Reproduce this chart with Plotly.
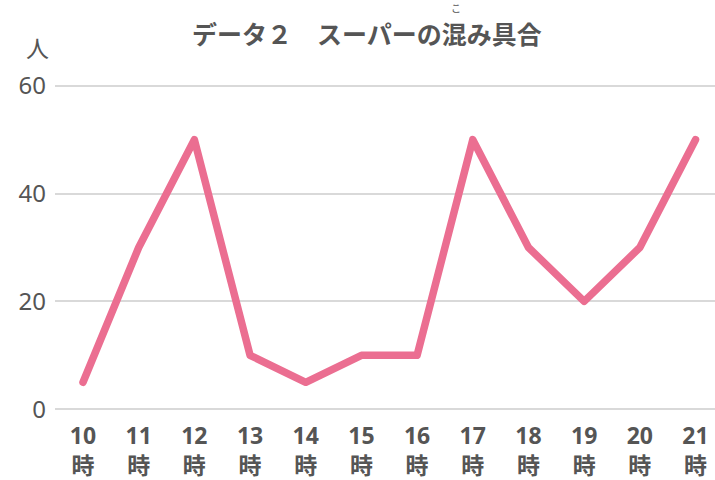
import plotly.graph_objects as go

hours = ["10", "11", "12", "13", "14", "15", "16", "17", "18", "19", "20", "21"]
people = [5, 30, 50, 10, 5, 10, 10, 50, 30, 20, 30, 50]
y_ticks = [0, 20, 40, 60]
title_text = "データ２　スーパーの混み具合"
ruby_text = "こ"
y_unit = "人"
x_suffix = "時"

xs = list(range(len(hours)))
tick_text = [f"{h}<br>{x_suffix}" for h in hours]

fig = go.Figure()
fig.add_trace(go.Scatter(
    x=xs, y=people, mode="lines",
    line=dict(color="#EB6E91", width=7.5),
    hoverinfo="skip", cliponaxis=False,
))

W, H = 715, 480
# pixel rows of y=60 and y=0 in the reference
Y60, Y0 = 86, 409
pad = 2  # value units of padding so edge gridlines draw
px_per = (Y0 - Y60) / 60
T = int(round(Y60 - pad * px_per))
B = int(round(H - (Y0 + pad * px_per)))
L, R = 55, 0
ph = H - T - B

def ypix(py):
    return 1 - (py - T) / ph

fig.update_layout(
    width=W, height=H,
    margin=dict(l=L, r=R, t=T, b=B, autoexpand=False),
    paper_bgcolor="white", plot_bgcolor="white",
    showlegend=False,
    font=dict(family="Noto Sans CJK JP", color="#555555"),
    xaxis=dict(
        range=[-0.503, 11.35],
        tickmode="array", tickvals=xs, ticktext=tick_text,
        showgrid=False, zeroline=False, showline=False,
        ticks="", automargin=False,
        tickfont=dict(size=23, family="Noto Sans, Noto Sans CJK JP", weight="bold", color="#555555"),
        fixedrange=True,
    ),
    yaxis=dict(
        range=[-pad, 60 + pad],
        tickmode="array", tickvals=y_ticks,
        showgrid=True, gridcolor="#D9D9D9", gridwidth=2,
        zeroline=False, showline=False, ticks="", automargin=False,
        ticklabelstandoff=8,
        tickfont=dict(size=24, family="Noto Sans", color="#555555"),
        fixedrange=True,
    ),
    annotations=[
        dict(text=f"<b>{title_text}</b>", xref="paper", yref="paper",
             x=(367 - L) / (W - L - R), y=ypix(33),
             xanchor="center", yanchor="middle", showarrow=False,
             font=dict(size=25, family="Noto Sans CJK JP", color="#555555")),
        dict(text=ruby_text, xref="paper", yref="paper",
             x=(456 - L) / (W - L - R), y=ypix(8),
             xanchor="center", yanchor="middle", showarrow=False,
             font=dict(size=10, family="Noto Sans CJK JP", color="#555555")),
        dict(text=y_unit, xref="paper", yref="paper",
             x=(37 - L) / (W - L - R), y=ypix(47),
             xanchor="center", yanchor="middle", showarrow=False,
             font=dict(size=23, family="Noto Sans CJK JP", color="#555555")),
    ],
)

fig.write_html(
    "out.html",
    config={"displayModeBar": False},
    post_script="document.body.style.margin='0';document.body.style.overflow='hidden';"
                "document.querySelectorAll('.scatterlayer path.js-line').forEach(function(p){p.style.strokeLinejoin='round';p.style.strokeLinecap='round';});",
)
